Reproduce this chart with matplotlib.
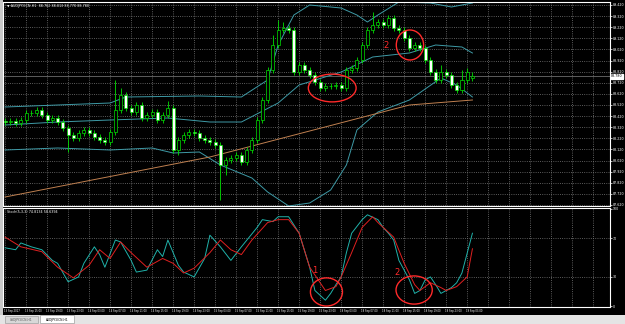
import matplotlib
matplotlib.use('Agg')
import matplotlib.pyplot as plt
from matplotlib.patches import Rectangle, Ellipse

# AUDJPY H1 candles, bar index 0..89
opens = [88.376, 88.367, 88.376, 88.358, 88.385, 88.448, 88.448, 88.475, 88.430, 88.385,
         88.403, 88.367, 88.313, 88.250, 88.223, 88.268, 88.295, 88.268, 88.232, 88.205,
         88.187, 88.277, 88.475, 88.610, 88.493, 88.457, 88.520, 88.403, 88.430, 88.457,
         88.385, 88.430, 88.493, 88.115, 88.205, 88.250, 88.277, 88.268, 88.223, 88.205,
         88.187, 88.160, 87.980, 88.025, 88.043, 88.070, 88.007, 88.115, 88.205, 88.385,
         88.565, 88.835, 89.060, 89.195, 89.213, 89.195, 88.817, 88.880, 88.835, 88.790,
         88.727, 88.673, 88.691, 88.691, 88.700, 88.673, 88.835, 88.853, 88.925, 89.060,
         89.195, 89.240, 89.267, 89.240, 89.303, 89.213, 89.195, 89.123, 89.033, 89.060,
         89.033, 88.925, 88.817, 88.745, 88.817, 88.790, 88.700, 88.655, 88.745, 88.762]
highs = [88.403, 88.403, 88.403, 88.412, 88.475, 88.475, 88.502, 88.502, 88.457, 88.430,
         88.430, 88.394, 88.340, 88.277, 88.295, 88.322, 88.322, 88.295, 88.259, 88.232,
         88.304, 88.745, 88.673, 88.637, 88.520, 88.547, 88.547, 88.457, 88.484, 88.484,
         88.457, 88.556, 88.520, 88.232, 88.277, 88.304, 88.304, 88.295, 88.250, 88.232,
         88.214, 88.187, 88.052, 88.070, 88.097, 88.097, 88.142, 88.232, 88.412, 88.592,
         88.862, 89.150, 89.285, 89.267, 89.240, 89.222, 88.907, 88.907, 88.862, 88.817,
         88.754, 88.718, 88.718, 88.727, 88.727, 88.862, 88.880, 88.952, 89.087, 89.222,
         89.357, 89.294, 89.294, 89.330, 89.330, 89.240, 89.222, 89.150, 89.087, 89.087,
         89.060, 88.952, 88.844, 88.880, 88.844, 88.817, 88.727, 88.835, 88.853, 88.813]
lows = [88.340, 88.340, 88.331, 88.331, 88.358, 88.421, 88.421, 88.403, 88.358, 88.358,
        88.340, 88.286, 88.097, 88.196, 88.196, 88.241, 88.241, 88.205, 88.178, 88.160,
        88.160, 88.250, 88.448, 88.466, 88.430, 88.430, 88.376, 88.376, 88.403, 88.358,
        88.358, 88.403, 88.088, 88.070, 88.178, 88.223, 88.241, 88.196, 88.178, 88.160,
        88.133, 87.665, 87.890, 87.998, 88.016, 87.980, 87.980, 88.088, 88.178, 88.358,
        88.538, 88.808, 89.033, 89.168, 89.168, 88.790, 88.790, 88.808, 88.763, 88.700,
        88.646, 88.646, 88.664, 88.664, 88.646, 88.646, 88.808, 88.826, 88.898, 89.033,
        89.168, 89.213, 89.213, 89.213, 89.186, 89.168, 89.096, 89.006, 89.006, 89.006,
        88.898, 88.790, 88.718, 88.718, 88.763, 88.673, 88.628, 88.628, 88.718, 88.740]
closes = [88.367, 88.376, 88.358, 88.385, 88.448, 88.448, 88.475, 88.430, 88.385, 88.403,
          88.367, 88.313, 88.250, 88.223, 88.268, 88.295, 88.268, 88.232, 88.205, 88.187,
          88.277, 88.475, 88.610, 88.493, 88.457, 88.520, 88.403, 88.430, 88.457, 88.385,
          88.430, 88.493, 88.115, 88.205, 88.250, 88.277, 88.268, 88.223, 88.205, 88.187,
          88.160, 87.980, 88.025, 88.043, 88.070, 88.007, 88.115, 88.205, 88.385, 88.565,
          88.835, 89.060, 89.195, 89.213, 89.195, 88.817, 88.880, 88.835, 88.790, 88.727,
          88.673, 88.691, 88.691, 88.700, 88.673, 88.835, 88.853, 88.925, 89.060, 89.195,
          89.240, 89.267, 89.240, 89.303, 89.213, 89.195, 89.123, 89.033, 89.060, 89.033,
          88.925, 88.817, 88.745, 88.817, 88.790, 88.700, 88.655, 88.745, 88.817, 88.780]

# bollinger bands and moving average, sampled (bar, price)
bb_up_x = [0, 10, 20, 23, 37, 45, 50, 52, 55, 58, 64, 67, 69, 71, 75, 81, 85, 89]
bb_up = [88.502, 88.520, 88.538, 88.592, 88.601, 88.592, 88.745, 89.060, 89.330, 89.420,
         89.393, 89.330, 89.267, 89.330, 89.447, 89.438, 89.402, 89.438]
bb_mid_x = [0, 10, 20, 31, 39, 45, 52, 56, 64, 70, 77, 82, 87, 89]
bb_mid = [88.340, 88.367, 88.385, 88.403, 88.367, 88.367, 88.538, 88.700, 88.817, 88.952,
          88.988, 89.060, 89.042, 88.988]
bb_lo_x = [0, 10, 20, 28, 32, 37, 41, 47, 50, 54, 58, 62, 65, 67, 71, 77, 83, 86, 89]
bb_lo = [88.115, 88.133, 88.115, 88.133, 88.088, 88.097, 87.980, 87.863, 87.737, 87.611,
         87.638, 87.755, 87.980, 88.295, 88.457, 88.565, 88.763, 88.700, 88.592]
ma_x = [0, 39, 77, 89]
ma = [87.692, 88.052, 88.520, 88.565]

# stochastic (5,3,3)
st_x = [0, 2, 3, 5, 7, 9, 10, 12, 14, 15, 17, 18, 19, 21, 22, 24, 25, 27, 29, 30, 31,
        33, 34, 36, 38, 39, 41, 43, 45, 48, 49, 51, 52, 54, 56, 58, 59, 61, 62, 63, 64,
        65, 66, 68, 69, 71, 72, 73, 74, 75, 77, 78, 79, 80, 81, 82, 83, 85, 86, 87, 89]
st_main = [60, 58, 65, 61, 58, 47, 44, 25, 30, 44, 61, 53, 40, 68, 66, 47, 35, 37, 58, 51, 68,
           42, 35, 30, 49, 73, 61, 47, 61, 81, 89, 87, 92, 92, 75, 40, 16, 6, 13, 22, 30,
           55, 75, 89, 94, 89, 81, 75, 68, 47, 27, 13, 16, 27, 30, 22, 13, 19, 24, 34, 75]
sg_x = [0, 3, 7, 10, 13, 16, 18, 20, 22, 24, 27, 30, 32, 34, 36, 39, 41, 43, 45, 47, 50,
        52, 54, 56, 58, 61, 63, 64, 66, 68, 70, 71, 73, 74, 76, 78, 79, 81, 83, 84, 86, 88, 89]
sg = [71, 61, 56, 40, 29, 42, 58, 49, 66, 55, 40, 49, 44, 34, 39, 55, 68, 58, 53, 68, 86,
      89, 89, 75, 40, 16, 20, 30, 55, 81, 92, 86, 76, 71, 44, 22, 16, 24, 19, 16, 20, 30, 59]

price_ticks = [89.42, 89.32, 89.22, 89.12, 89.02, 88.92, 88.82, 88.72, 88.62, 88.52,
               88.42, 88.32, 88.22, 88.12, 88.02, 87.92, 87.82, 87.72, 87.62]
date_labels = ['13 Sep 2017', '13 Sep 15:00', '13 Sep 19:00', '13 Sep 23:00', '14 Sep 03:00',
               '14 Sep 07:00', '14 Sep 11:00', '14 Sep 15:00', '14 Sep 19:00', '14 Sep 23:00',
               '15 Sep 03:00', '15 Sep 07:00', '15 Sep 11:00', '15 Sep 15:00', '15 Sep 19:00',
               '15 Sep 23:00', '18 Sep 03:00', '18 Sep 07:00', '18 Sep 11:00', '18 Sep 15:00',
               '18 Sep 19:00', '18 Sep 23:00', '19 Sep 03:00']

W, H = 625, 324
fig = plt.figure(figsize=(W / 100, H / 100), dpi=100, facecolor='black')

def box(x0, y0, x1, y1):
    return [x0 / W, 1 - y1 / H, (x1 - x0) / W, (y1 - y0) / H]

xlo, xhi = -0.4, 115.2
pmin, pmax = 87.611, 89.447
ax = fig.add_axes(box(3, 2, 610, 206))
sub = fig.add_axes(box(3, 208, 610, 307))
for a in (ax, sub):
    a.set_facecolor('black')
    for s in a.spines.values():
        s.set_color('white')
        s.set_linewidth(0.8)
    a.set_xlim(xlo, xhi)
    a.set_xticks(range(0, 116, 4))
    a.tick_params(axis='x', length=0, labelbottom=False)
    a.grid(True, axis='x', color='#7a7a7a', ls=':', lw=0.6)
    a.yaxis.tick_right()
    a.tick_params(axis='y', colors='white', labelsize=2.3, length=1.5, pad=0.5, width=0.5)

ax.set_ylim(pmin, pmax)
ax.set_yticks(price_ticks)
ax.set_yticklabels(['%.3f' % p for p in price_ticks])
ax.grid(True, axis='y', color='#7a7a7a', ls=':', lw=0.6)

# bid line
ax.axhline(closes[-1], color='#808080', lw=0.5)
ax.text(1.002, (closes[-1] - pmin) / (pmax - pmin), '%.3f' % closes[-1], transform=ax.transAxes,
        fontsize=2.3, color='black', va='center', ha='left',
        bbox=dict(boxstyle='square,pad=0.15', fc='white', ec='white'))

ax.plot(bb_up_x, bb_up, color='#3e9aa6', lw=0.7)
ax.plot(bb_mid_x, bb_mid, color='#3e9aa6', lw=0.7)
ax.plot(bb_lo_x, bb_lo, color='#3e9aa6', lw=0.7)
ax.plot(ma_x, ma, color='#c08050', lw=0.7)

for i in range(len(closes)):
    o, c = opens[i], closes[i]
    ax.vlines(i, lows[i], highs[i], color='#00e000', lw=0.6)
    fc = 'white' if c < o else 'black'
    ax.add_patch(Rectangle((i - 0.3, min(o, c)), 0.6, max(abs(c - o), 0.004),
                           fc=fc, ec='#00e000', lw=0.5, zorder=3))

sub.set_ylim(-1, 101)
sub.set_yticks([0, 30, 70, 100])
sub.set_yticklabels(['0', '30', '70', '100'])
for lv in (30, 70):
    sub.axhline(lv, color='#7a7a7a', ls=':', lw=0.6)
sub.plot(st_x, st_main, color='#20b2aa', lw=0.7)
sub.plot(sg_x, sg, color='#e02020', lw=0.7)

# annotations
red = '#ff2a2a'
ax.add_patch(Ellipse((62.3, 88.673), 9.1, 0.25, fill=False, ec=red, lw=1.0, zorder=5))
ax.add_patch(Ellipse((77.1, 89.06), 5.2, 0.27, fill=False, ec=red, lw=1.0, zorder=5))
ax.text(72.6, 89.06, '2', color=red, fontsize=6, ha='center', va='center')
sub.add_patch(Ellipse((61.2, 14.5), 6.1, 29, fill=False, ec=red, lw=1.0, zorder=5))
sub.text(59.0, 37, '1', color=red, fontsize=6, ha='center', va='center')
sub.add_patch(Ellipse((77.9, 16.5), 6.9, 29, fill=False, ec=red, lw=1.0, zorder=5))
sub.text(74.7, 35, '2', color=red, fontsize=6, ha='center', va='center')

fig.text(7 / W, 1 - 6 / H, '\u25bc AUDJPY.ECN,H1  88.762 88.813 88.770 88.780', color='white',
         fontsize=2.4, va='center')
fig.text(7 / W, 1 - 212 / H, 'Stoch(5,3,3) 74.8134 58.6394', color='white', fontsize=2.4, va='center')

for k, lab in enumerate(date_labels):
    fig.text((4 + 21 * k) / W, 1 - 311 / H, lab, color='white', fontsize=1.8, va='center', ha='left')

# window chrome
fig.patches.append(Rectangle((0, 0), 3 / W, 1, transform=fig.transFigure, fc='#c8c8c8', ec='none'))
fig.patches.append(Rectangle((0, 0), 1, 9 / H, transform=fig.transFigure, fc='#e4e4e4', ec='none'))
fig.patches.append(Rectangle((5 / W, 1 / H), 33 / W, 7 / H, transform=fig.transFigure,
                             fc='#d8d8d8', ec='#a0a0a0', lw=0.5))
fig.patches.append(Rectangle((40 / W, 1 / H), 34 / W, 8 / H, transform=fig.transFigure,
                             fc='white', ec='#a0a0a0', lw=0.5))
fig.text(21.5 / W, 4.5 / H, 'USDJPY-ECN,H1', fontsize=2.2, color='#555555', ha='center', va='center')
fig.text(57 / W, 4.5 / H, 'AUDJPY-ECN,H1', fontsize=2.2, color='black', ha='center', va='center')

fig.savefig('out.png', dpi=100, facecolor='black')
